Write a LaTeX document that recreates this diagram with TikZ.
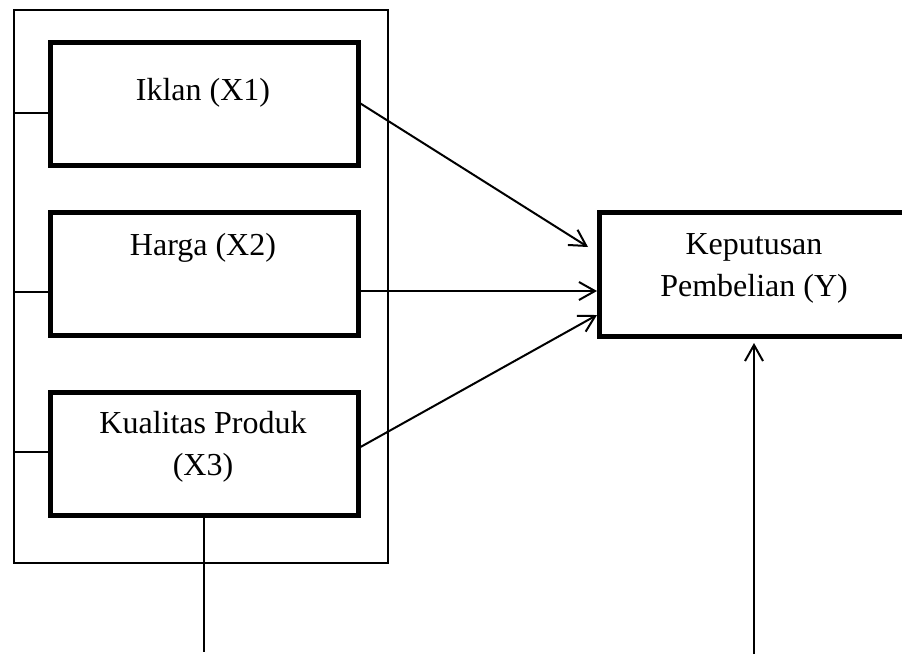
\documentclass[tikz,border=0pt]{standalone}
\usepackage{fontspec}
\setmainfont{Liberation Serif}
\usetikzlibrary{arrows.meta,calc}

\begin{document}
\begin{tikzpicture}[x=0.75pt, y=-0.75pt,
    varbox/.style={draw, line width=3.75pt, minimum width=231pt, minimum height=92.25pt, inner sep=0pt},
    ybox/.style={draw, line width=3.75pt, minimum width=270.75pt, minimum height=93pt, inner sep=0pt},
    lbl/.style={anchor=base, inner sep=0pt, font=\fontsize{24}{31.5}\selectfont},
    arr/.style={line width=1.5pt, -{Straight Barb[length=12pt,width=13.5pt,line width=1.5pt]}},
    link/.style={line width=1pt}]
\useasboundingbox (0,0) rectangle (902,654);
\clip (0,0) rectangle (902,654);
% Frame round the variables X
    \node[draw, line width=1pt, minimum width=280.5pt, minimum height=414.75pt, inner sep=0pt] (frame) at (201,286.5) {};
% Boxes
    \node[varbox] (x1) at (204,103.5) {};
    \node[varbox] (x2) at (204,273.5) {};
    \node[varbox] (x3) at (204,453.5) {};
    \node[ybox] (y) at (779.5,274) {};
% Texts
    \node[lbl] (x1t) at (203,100) {Iklan (X1)};
    \node[lbl] (x2t) at (203,255) {Harga (X2)};
    \node[lbl] (x3t) at (203,433) {Kualitas Produk};
    \node[lbl] (x3u) at (203,475) {(X3)};
    \node[lbl] (yt) at (754,254) {Keputusan};
    \node[lbl] (yu) at (754,296) {Pembelian (Y)};
% Free ends
    \coordinate (t1) at (588,247);
    \coordinate (t2) at (597,291);
    \coordinate (t3) at (597,315);
    \coordinate (x3end) at (204,652);
    \coordinate (ybot) at (754,654);
    \coordinate (ytip) at (754,343);
% Frame to boxes
    \draw[link] (frame.west |- 0,113) -- (x1.west |- 0,113);
    \draw[link] (frame.west |- 0,292) -- (x2.west |- 0,292);
    \draw[link] (frame.west |- 0,452) -- (x3.west |- 0,452);
% Arrows to Y
    \draw[arr] (x1.east) -- (t1);
    \draw[arr] (x2.east |- t2) -- (t2);
    \draw[arr] ($(x3.east)+(0,-6.5)$) -- (t3);
    \draw[line width=1.5pt] (x3.south) -- (x3end);
    \draw[arr] (ybot) -- (ytip);
\end{tikzpicture}
\end{document}
